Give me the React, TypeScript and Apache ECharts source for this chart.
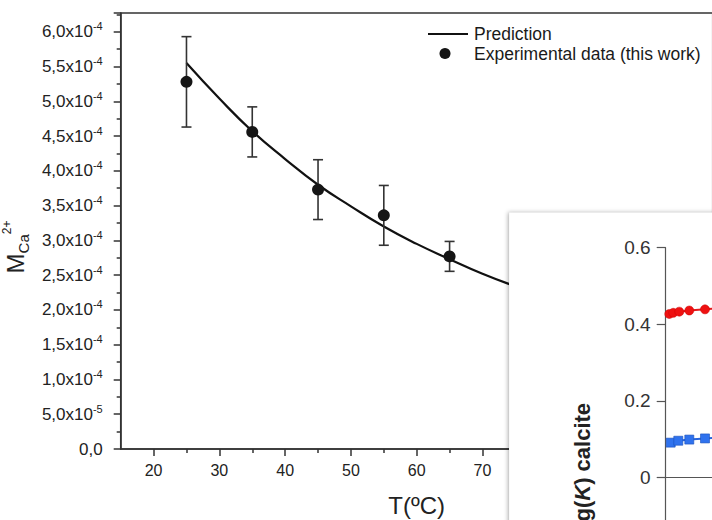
import React, { useEffect, useRef } from "react";
import * as echarts from "echarts";

// Main chart: experimental data (this work)
const tempC = [25, 35, 45, 55, 65];
const mCa = [5.28e-4, 4.56e-4, 3.73e-4, 3.36e-4, 2.77e-4];
const mCaErr = [0.65e-4, 0.36e-4, 0.43e-4, 0.43e-4, 0.215e-4];

// Prediction curve
const predT = [25, 30, 35, 40, 45, 50, 55, 60, 65, 70, 75, 80];
const predM = [5.55e-4, 5.04e-4, 4.57e-4, 4.17e-4, 3.8e-4, 3.49e-4, 3.2e-4, 2.95e-4, 2.73e-4, 2.52e-4, 2.34e-4, 2.18e-4];

// Tick values
const xMajorTicks = [20, 30, 40, 50, 60, 70, 80, 90, 100];
const xMinorTicks = [25, 35, 45, 55, 65, 75, 85, 95];

// Overlapping inset panel (log(K) calcite)
const insetRedX = [3.6, 7.6, 13.6, 23.6, 39.3, 60];
const insetRedY = [0.427, 0.43, 0.433, 0.436, 0.439, 0.443];
const insetBlueX = [5, 12.6, 23.6, 39.3, 60];
const insetBlueY = [0.091, 0.096, 0.099, 0.102, 0.105];

const FONT = "'Liberation Sans', Arial, Helvetica, sans-serif";

function mainYLabel(v: number): string {
  if (Math.abs(v) < 1e-10) return "{a|0,0}";
  if (v < 0.99e-4) {
    return "{a|" + (v * 1e5).toFixed(1).replace(".", ",") + "x10}{s|-5}";
  }
  return "{a|" + (v * 1e4).toFixed(1).replace(".", ",") + "x10}{s|-4}";
}

export default function App() {
  const ref = useRef<HTMLDivElement>(null);

  useEffect(() => {
    if (!ref.current) return;
    const chart = echarts.init(ref.current, undefined, { renderer: "svg" });

    const axisColor = "#333";
    const insetAxisColor = "#555";

    const option: any = {
      animation: false,
      backgroundColor: "#fff",
      textStyle: { fontFamily: FONT },
      grid: [
        {
          left: 120.7,
          top: 13,
          width: 592,
          height: 436,
          show: true,
          borderColor: axisColor,
          borderWidth: 1.5,
          backgroundColor: "transparent",
          containLabel: false,
          outerBoundsMode: "none",
        },
        {
          left: 665.7,
          top: 247.7,
          width: 100,
          height: 306.4,
          show: false,
          z: 60,
          containLabel: false,
          outerBoundsMode: "none",
        },
      ],
      xAxis: [
        {
          gridIndex: 0,
          type: "value",
          min: 15,
          max: 105,
          position: "bottom",
          splitLine: { show: false },
          axisLine: { show: true, lineStyle: { color: axisColor, width: 1.5 } },
          axisTick: {
            show: true,
            inside: false,
            length: 7,
            customValues: xMajorTicks,
            lineStyle: { color: axisColor, width: 1.5 },
          },
          axisLabel: {
            customValues: xMajorTicks,
            fontSize: 16,
            color: "#222",
            margin: 13,
            fontFamily: FONT,
          },
          name: "T(ºC)",
          nameLocation: "middle",
          nameGap: 44,
          nameTextStyle: { fontSize: 24, color: "#222", fontFamily: FONT },
        },
        {
          gridIndex: 0,
          type: "value",
          min: 15,
          max: 105,
          position: "bottom",
          splitLine: { show: false },
          axisLine: { show: false },
          axisLabel: { show: false },
          axisTick: {
            show: true,
            inside: false,
            length: 4,
            customValues: xMinorTicks,
            lineStyle: { color: axisColor, width: 1.5 },
          },
        },
        {
          gridIndex: 1,
          type: "value",
          min: 0,
          max: 100,
          position: "top",
          z: 60,
          splitLine: { show: false },
          axisLine: { show: true, lineStyle: { color: insetAxisColor, width: 1.2 } },
          axisTick: { show: false },
          axisLabel: { show: false },
        },
      ],
      yAxis: [
        {
          gridIndex: 0,
          type: "value",
          min: 0,
          max: 6.27e-4,
          interval: 0.5e-4,
          splitLine: { show: false },
          axisLine: { show: true, lineStyle: { color: axisColor, width: 1.5 } },
          axisTick: { show: true, inside: false, length: 7, lineStyle: { color: axisColor, width: 1.5 } },
          minorTick: { show: true, splitNumber: 2, length: 4, lineStyle: { color: axisColor, width: 1.5 } },
          axisLabel: {
            showMaxLabel: false,
            margin: 18,
            formatter: mainYLabel,
            rich: {
              a: { fontSize: 17, color: "#222", fontFamily: FONT, lineHeight: 22 },
              s: { fontSize: 11, color: "#222", fontFamily: FONT, lineHeight: 8, verticalAlign: "top" },
            },
          },
          name: "{m|M}{sub|Ca}{sup|2+}",
          nameLocation: "middle",
          nameGap: 86,
          nameRotate: 90,
          nameTextStyle: {
            padding: [0, 32, 0, 0],
            rich: {
              m: { fontSize: 24, color: "#222", fontFamily: FONT, lineHeight: 30 },
              sub: { fontSize: 15, color: "#222", fontFamily: FONT, lineHeight: 12, verticalAlign: "bottom" },
              sup: { fontSize: 12, color: "#222", fontFamily: FONT, lineHeight: 10, verticalAlign: "top" },
            },
          },
        },
        {
          gridIndex: 1,
          type: "value",
          min: -0.2,
          max: 0.6,
          interval: 0.2,
          z: 60,
          splitLine: { show: false },
          axisLine: { show: true, lineStyle: { color: insetAxisColor, width: 1.2 } },
          axisTick: { show: true, inside: false, length: 9, lineStyle: { color: insetAxisColor, width: 1.2 } },
          axisLabel: {
            margin: 15,
            fontSize: 19,
            color: "#333",
            fontFamily: FONT,
            formatter: (v: number) => (v < -1e-9 ? "" : Math.abs(v) < 1e-9 ? "0" : v.toFixed(1)),
          },
        },
        {
          gridIndex: 1,
          type: "value",
          min: -0.2,
          max: 0.6,
          interval: 0.2,
          z: 60,
          splitLine: { show: false },
          axisLine: { show: false },
          axisTick: { show: true, inside: true, length: 8, lineStyle: { color: insetAxisColor, width: 1.2 } },
          axisLabel: { show: false },
        },
      ],
      series: [
        {
          name: "Prediction",
          type: "line",
          xAxisIndex: 0,
          yAxisIndex: 0,
          data: predT.map((t, i) => [t, predM[i]]),
          smooth: true,
          showSymbol: false,
          symbol: "none",
          lineStyle: { color: "#111", width: 2.2 },
          z: 3,
        },
        {
          name: "error",
          type: "custom",
          xAxisIndex: 0,
          yAxisIndex: 0,
          data: tempC.map((t, i) => [t, mCa[i], mCaErr[i]]),
          encode: { x: 0, y: 1 },
          z: 4,
          renderItem: (params: any, api: any) => {
            const x = api.value(0);
            const y = api.value(1);
            const e = api.value(2);
            const top = api.coord([x, y + e]);
            const bot = api.coord([x, y - e]);
            const cap = 5;
            const style = { stroke: "#333", lineWidth: 1.6 };
            return {
              type: "group",
              children: [
                { type: "line", shape: { x1: top[0], y1: top[1], x2: bot[0], y2: bot[1] }, style },
                { type: "line", shape: { x1: top[0] - cap, y1: top[1], x2: top[0] + cap, y2: top[1] }, style },
                { type: "line", shape: { x1: bot[0] - cap, y1: bot[1], x2: bot[0] + cap, y2: bot[1] }, style },
              ],
            };
          },
        },
        {
          name: "Experimental data (this work)",
          type: "scatter",
          xAxisIndex: 0,
          yAxisIndex: 0,
          data: tempC.map((t, i) => [t, mCa[i]]),
          symbol: "circle",
          symbolSize: 12,
          itemStyle: { color: "#151515", opacity: 1 },
          z: 5,
        },
        {
          name: "red",
          type: "line",
          xAxisIndex: 2,
          yAxisIndex: 1,
          data: insetRedX.map((x, i) => [x, insetRedY[i]]),
          symbol: "circle",
          symbolSize: 9,
          lineStyle: { color: "#e31a1c", width: 2 },
          itemStyle: { color: "#ee1111", borderColor: "#cc0000", borderWidth: 0.5, opacity: 1 },
          z: 70,
        },
        {
          name: "blue",
          type: "line",
          xAxisIndex: 2,
          yAxisIndex: 1,
          data: insetBlueX.map((x, i) => [x, insetBlueY[i]]),
          symbol: "rect",
          symbolSize: 9,
          lineStyle: { color: "#2a66dd", width: 2 },
          itemStyle: { color: "#2f72ee", borderColor: "#1a4fb8", borderWidth: 0.6, opacity: 1 },
          z: 70,
        },
      ],
      graphic: [
        {
          type: "line",
          z: 40,
          shape: { x1: 428, y1: 34, x2: 468, y2: 34 },
          style: { stroke: "#111", lineWidth: 2 },
        },
        {
          type: "circle",
          z: 40,
          shape: { cx: 445, cy: 53.5, r: 5.5 },
          style: { fill: "#151515" },
        },
        {
          type: "text",
          z: 40,
          x: 474,
          y: 34,
          style: { text: "Prediction", fontSize: 17.5, fontFamily: FONT, fill: "#1a1a1a", verticalAlign: "middle", align: "left" },
        },
        {
          type: "text",
          z: 40,
          x: 474,
          y: 54,
          style: {
            text: "Experimental data (this work)",
            fontSize: 17.5,
            fontFamily: FONT,
            fill: "#1a1a1a",
            verticalAlign: "middle",
            align: "left",
          },
        },
        {
          type: "rect",
          z: 50,
          shape: { x: 509, y: 212.5, width: 220, height: 330 },
          style: {
            fill: "#fff",
            stroke: "rgba(0,0,0,0.04)",
            lineWidth: 1,
            shadowBlur: 4,
            shadowOffsetX: -1,
            shadowColor: "rgba(0,0,0,0.3)",
          },
        },
        {
          type: "text",
          z: 55,
          x: 582,
          y: 472,
          rotation: Math.PI / 2,
          style: {
            text: "{b|log(}{i|K}{b|) calcite}",
            align: "center",
            verticalAlign: "middle",
            rich: {
              b: { fontSize: 22, fontWeight: "bold", fontFamily: FONT, fill: "#222" },
              i: { fontSize: 22, fontWeight: "bold", fontStyle: "italic", fontFamily: FONT, fill: "#222" },
            },
          },
        },
      ],
    };

    chart.setOption(option);
    return () => chart.dispose();
  }, []);

  return (
    <div
      ref={ref}
      style={{ position: "absolute", left: 0, top: 0, width: 712, height: 520, background: "#fff" }}
    />
  );
}
